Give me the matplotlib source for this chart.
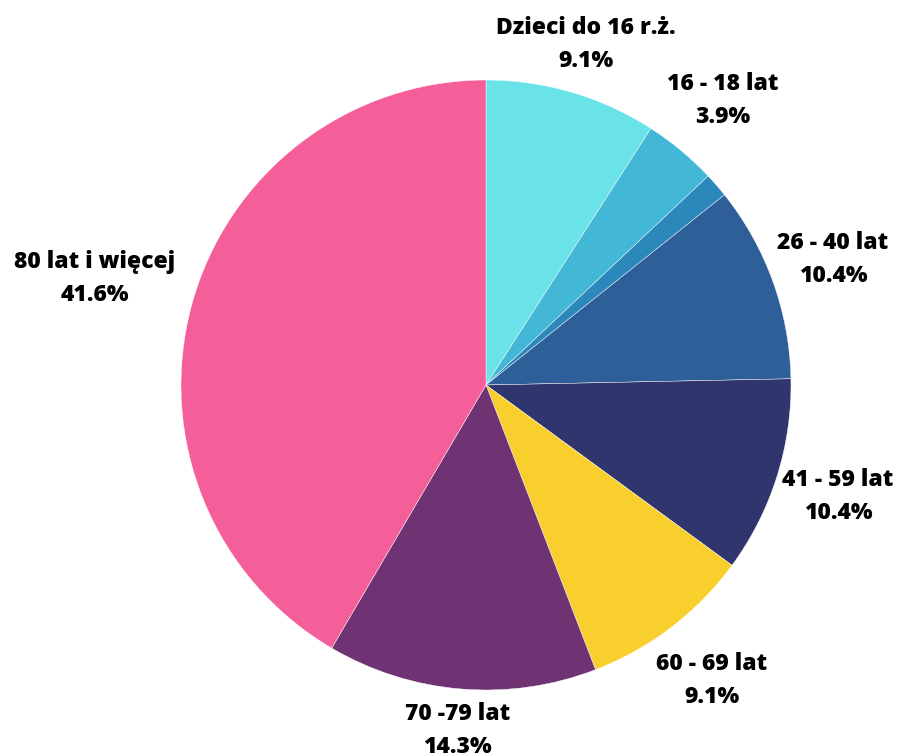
import matplotlib.pyplot as plt
import numpy as np

plt.rcParams['font.family'] = ['Open Sans', 'DejaVu Sans']

# age groups (clockwise from top), counts out of 77
labels = ["Dzieci do 16 r.ż.", "16 - 18 lat", "", "26 - 40 lat",
          "41 - 59 lat", "60 - 69 lat", "70 -79 lat", "80 lat i więcej"]
counts = [7, 3, 1, 8, 8, 7, 11, 32]
colors = ["#6AE3E8", "#43B8D6", "#2A89BA", "#2E5F99",
          "#31356E", "#F9CF2D", "#6F3273", "#F45E99"]
label_dist = [1.165, 1.215, 1.2, 1.21, 1.21, 1.22, 1.135, 1.33]

W, H = 908, 753
fig = plt.figure(figsize=(W / 100, H / 100), dpi=100)
ax = fig.add_axes([0, 0, 1, 1])

cx, cy, r = 486, H - 385, 305
wedges, _ = ax.pie(counts, colors=colors, startangle=90, counterclock=False,
                   center=(cx, cy), radius=r,
                   wedgeprops=dict(edgecolor='white', linewidth=0.3))

total = sum(counts)
for w, lab, c, d in zip(wedges, labels, counts, label_dist):
    if not lab:
        continue
    ang = np.deg2rad((w.theta1 + w.theta2) / 2)
    x = cx + d * r * np.cos(ang)
    y = cy + d * r * np.sin(ang)
    ax.text(x, y, "%s\n%.1f%%" % (lab, 100 * c / total), ha='center', va='center',
            fontsize=16.5, fontweight=800, linespacing=1.5, color='black')

ax.set_xlim(0, W)
ax.set_ylim(0, H)
ax.set_aspect('equal')
ax.axis('off')
fig.savefig("out.png", dpi=100)
